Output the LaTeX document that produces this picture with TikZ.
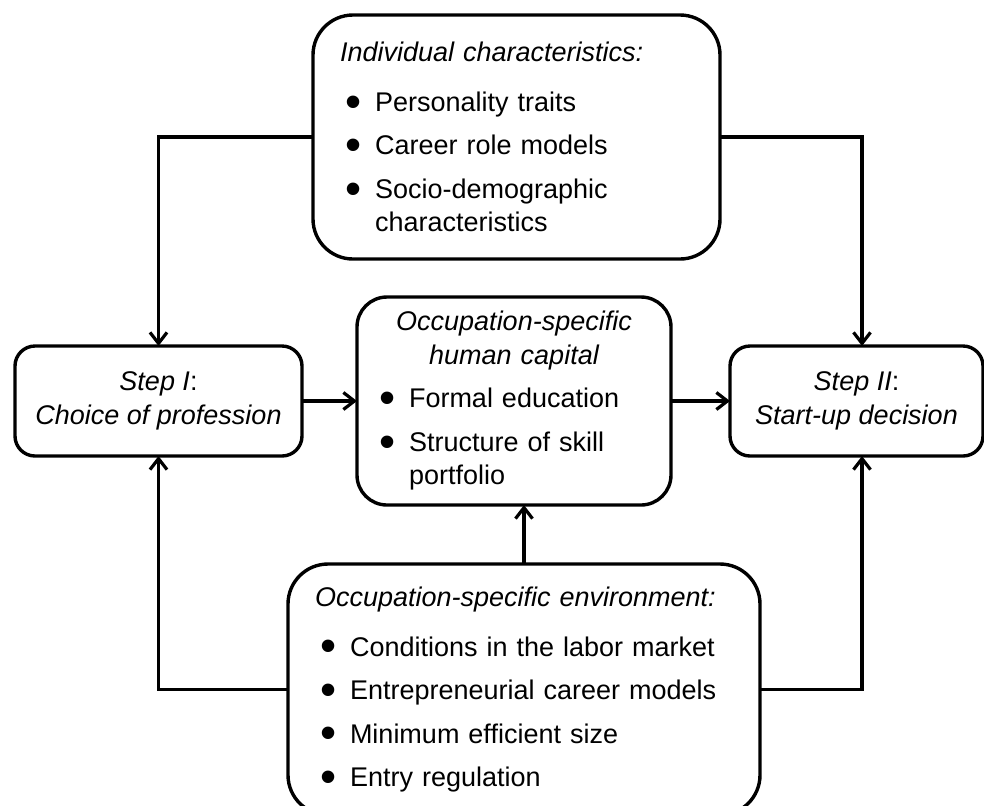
\documentclass[tikz,border=0pt]{standalone}
\usepackage{fontspec}
\setmainfont{Liberation Sans}
\usepackage{tikz}
\usetikzlibrary{arrows.meta,positioning,calc}
\newcommand{\bul}{\makebox[17.5pt][l]{\hspace*{2.5pt}\raisebox{-2.8pt}{\scalebox{1.7}{\textbullet}}}}
\tikzset{
  box/.style={rectangle, draw=black, line width=1.7pt, outer sep=0pt, inner ysep=0pt, font=\fontsize{13.5}{16.75}\selectfont},
  listbox/.style={box, align=left, inner xsep=13.5pt, rounded corners=20pt},
  stepbox/.style={box, align=center, rounded corners=10pt, minimum width=#1, minimum height=55pt},
  link/.style={-{Straight Barb[length=5.5pt,width=8.5pt]}, line width=1.6pt}
}

\begin{document}
\begin{tikzpicture}[x=0.5pt, y=-0.5pt]
  \useasboundingbox (0,0) rectangle (984,805);

  % individual characteristics (top)
  \node[listbox, text width=176.5pt, minimum height=122pt] (ind) at (516.5,137) {%
    {\itshape Individual characteristics:}\\[8.25pt]
    \bul Personality traits\\[5pt]
    \bul Career role models\\[5pt]
    \bul Socio-demographic\\
    \hspace*{17.5pt}characteristics};

  % the two steps
  \node[stepbox=143.5pt] (step1) at (158.5,401) {{\itshape Step I}:\\{\itshape Choice of profession}};
  \node[stepbox=126.5pt] (step2) at (856.5,401) {{\itshape Step II}:\\{\itshape Start-up decision}};

  % human capital (middle)
  \node[listbox, rounded corners=15pt, inner xsep=8.5pt, text width=140pt, minimum height=104pt] (mid) at (514,401) {%
    \makebox[140pt]{\itshape Occupation-specific}\\
    \makebox[140pt]{\itshape human capital}\\[5pt]
    \bul Formal education\\[5pt]
    \bul Structure of skill\\
    \hspace*{17.5pt}portfolio};

  % environment (bottom)
  \node[listbox, text width=209pt, minimum height=125.5pt] (env) at (524,689.5) {%
    {\itshape Occupation-specific environment:}\\[8.25pt]
    \bul Conditions in the labor market\\[5pt]
    \bul Entrepreneurial career models\\[5pt]
    \bul Minimum efficient size\\[5pt]
    \bul Entry regulation};

  \coordinate (rline) at (862,0);

  % connectors
  \draw[link] (ind.west) -| (step1.north);
  \draw[link] (ind.east) -| (rline |- step2.north);
  \draw[link] (env.west) -| (step1.south);
  \draw[link] (env.east) -| (rline |- step2.south);
  \draw[link] (env.north) -- (env.north |- mid.south);
  \draw[link] (step1) -- (mid);
  \draw[link] (mid) -- (step2);
\end{tikzpicture}
\end{document}
